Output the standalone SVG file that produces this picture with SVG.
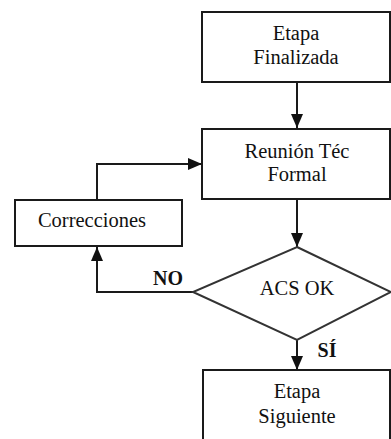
<svg xmlns="http://www.w3.org/2000/svg" width="391" height="439" viewBox="0 0 391 439">
<style>
.box{fill:#fff;stroke:#1a1a1a;stroke-width:2}
.dia{fill:#fff;stroke:#333;stroke-width:2}
.t{font-family:'Liberation Serif','Times New Roman',serif;font-size:20.5px;fill:#111;text-anchor:middle}
.b{font-family:'Liberation Serif','Times New Roman',serif;font-size:20px;font-weight:bold;fill:#111;text-anchor:middle}
.c{fill:none;stroke:#1a1a1a;stroke-width:2}
</style>
<defs>
<marker id="ah" markerWidth="14" markerHeight="12" refX="14" refY="6" orient="auto" markerUnits="userSpaceOnUse">
<path d="M0,0 L14,6 L0,12 Z" fill="#111"/>
</marker>
</defs>
<rect width="391" height="439" fill="#fff"/>
<g id="connectors">
<line class="c" x1="297" y1="82" x2="297" y2="128" marker-end="url(#ah)"/>
<line class="c" x1="297" y1="199" x2="297" y2="247" marker-end="url(#ah)"/>
<polyline class="c" points="97,199 97,164 202,164" marker-end="url(#ah)"/>
<polyline class="c" points="193,292 97,292 97,247" marker-end="url(#ah)"/>
<line class="c" x1="297" y1="340" x2="297" y2="370" marker-end="url(#ah)"/>
<text class="b" x="168" y="285">NO</text>
<text class="b" x="327" y="357">SÍ</text>
</g>
<g id="etapa-finalizada">
<rect class="box" x="202" y="12" width="188" height="70"/>
<text class="t" x="296" y="40">Etapa</text>
<text class="t" x="296" y="64">Finalizada</text>
</g>
<g id="reunion">
<rect class="box" x="202" y="129" width="188" height="70"/>
<text class="t" x="297" y="158">Reunión Téc</text>
<text class="t" x="297" y="181">Formal</text>
</g>
<g id="correcciones">
<rect class="box" x="15" y="200" width="167" height="46"/>
<text class="t" x="92" y="227">Correcciones</text>
</g>
<g id="acs-ok">
<polygon class="dia" points="297,247 391,292 297,340 193,292"/>
<text class="t" x="297" y="295">ACS OK</text>
</g>
<g id="etapa-siguiente">
<rect class="box" x="203" y="370" width="187" height="80"/>
<text class="t" x="297" y="398">Etapa</text>
<text class="t" x="297" y="423">Siguiente</text>
</g>
</svg>
